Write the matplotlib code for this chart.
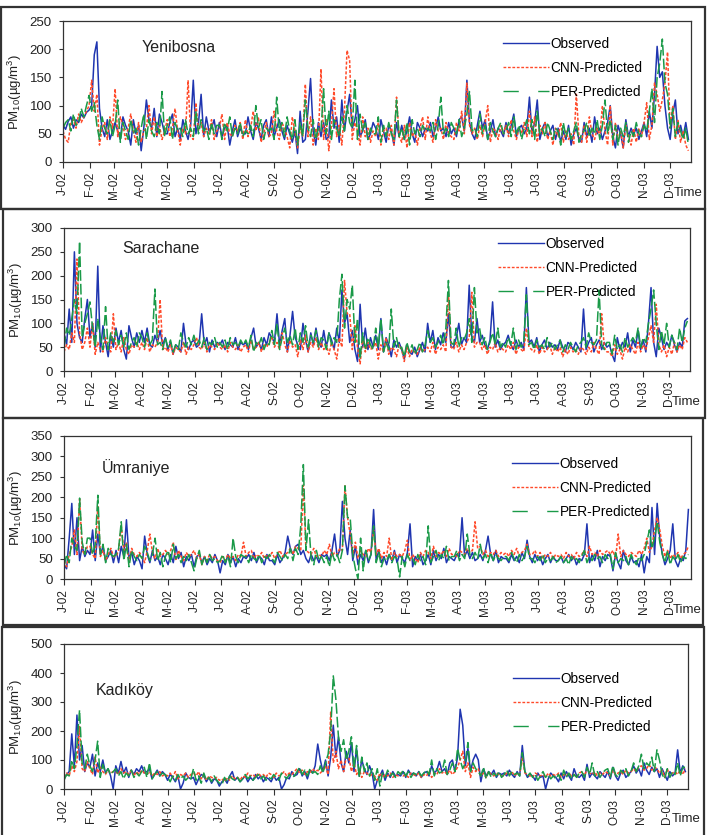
import numpy as np
import pandas as pd
import matplotlib
matplotlib.use('Agg')
from matplotlib import pyplot as plt
from matplotlib.patches import Rectangle
from matplotlib.lines import Line2D

plt.rcParams['font.family'] = ['Liberation Sans', 'DejaVu Sans']
plt.rcParams['mathtext.fontset'] = 'custom'
plt.rcParams['mathtext.rm'] = 'Liberation Sans'
plt.rcParams['mathtext.it'] = 'Liberation Sans:italic'

# data: PM10, one value every 3 days from 1 Jan 2002
stations = ['Yenibosna', 'Sarachane', 'Ümraniye', 'Kadıköy']
y_max = [250, 300, 350, 500]
y_step = [50, 50, 50, 100]
labels = ['Observed', 'CNN-Predicted', 'PER-Predicted']

obs_yen = [65, 58, 72, 80, 60, 75, 70, 85, 78, 88,  92, 100, 190, 213, 95, 60, 45, 75, 40, 55,
           70, 55, 40, 80, 65, 55, 30, 75, 50, 65,  20, 60, 110, 75, 60, 95, 45, 85, 70, 50,
           50, 70, 85, 45, 60, 40, 75, 55, 40, 65,  145, 50, 70, 120, 45, 80, 55, 60, 75, 45,
           70, 45, 60, 65, 30, 55, 75, 45, 60, 50,  50, 80, 55, 40, 70, 60, 40, 65, 75, 45,
           80, 45, 60, 75, 55, 40, 65, 50, 35, 55,  15, 90, 35, 40, 90, 148, 55, 30, 70, 45,
           70, 40, 45, 110, 60, 80, 35, 110, 55, 90,  120, 60, 75, 100, 45, 55, 75, 40, 50, 70,
           60, 40, 75, 55, 35, 65, 55, 30, 70, 45,  65, 40, 55, 80, 50, 35, 70, 60, 45, 60,
           55, 70, 45, 60, 80, 55, 60, 45, 70, 50,  60, 45, 75, 80, 55, 145, 70, 50, 40, 65,
           90, 60, 75, 40, 55, 75, 45, 60, 55, 45,  70, 50, 65, 85, 45, 60, 65, 50, 60, 115,
           50, 70, 110, 40, 60, 70, 45, 55, 65, 40,  60, 35, 55, 40, 65, 30, 50, 60, 40, 35,
           70, 45, 60, 35, 80, 50, 60, 40, 55, 70,  100, 45, 25, 65, 50, 25, 75, 45, 60, 50,
           60, 40, 55, 70, 45, 90, 60, 120, 205, 150,  160, 100, 60, 40, 85, 110, 50, 65, 45, 70,
           40]
cnn_yen = [55, 40, 35, 70, 75, 60, 85, 70, 80, 90,  100, 145, 90, 120, 30, 60, 70, 40, 80, 60,
           130, 45, 80, 65, 40, 60, 85, 55, 35, 70,  35, 55, 60, 100, 50, 80, 45, 65, 40, 55,
           75, 45, 60, 95, 55, 30, 60, 50, 145, 45,  40, 105, 55, 70, 45, 60, 50, 75, 40, 55,
           60, 85, 40, 70, 50, 45, 65, 55, 70, 40,  75, 45, 60, 90, 55, 80, 35, 50, 70, 45,
           50, 90, 55, 40, 70, 60, 45, 25, 80, 55,  25, 60, 45, 138, 45, 80, 30, 60, 40, 165,
           40, 75, 20, 65, 130, 45, 65, 30, 90, 198,  180, 40, 70, 55, 30, 80, 45, 60, 35, 55,
           45, 70, 30, 55, 60, 40, 65, 30, 115, 45,  35, 65, 25, 70, 45, 55, 30, 60, 80, 40,
           80, 50, 35, 75, 55, 60, 40, 70, 50, 45,  40, 70, 55, 90, 50, 140, 65, 50, 60, 40,
           65, 45, 70, 100, 35, 60, 55, 40, 65, 50,  65, 45, 75, 55, 40, 60, 50, 70, 45, 90,
           45, 80, 35, 65, 50, 70, 40, 55, 30, 60,  45, 70, 35, 55, 40, 50, 30, 120, 45, 35,
           65, 35, 80, 50, 40, 60, 45, 100, 55, 30,  100, 30, 70, 40, 55, 25, 65, 45, 30, 60,
           35, 60, 45, 70, 105, 40, 65, 140, 120, 90,  110, 140, 195, 60, 100, 40, 75, 35, 55, 30,
           20]
per_yen = [60, 70, 75, 55, 85, 65, 70, 95, 80, 100,  118, 90, 105, 65, 40, 80, 60, 50, 75, 45,
           65, 110, 35, 70, 55, 40, 75, 50, 60, 30,  60, 85, 40, 75, 55, 45, 70, 50, 125, 45,
           65, 80, 40, 70, 55, 60, 45, 75, 50, 60,  45, 90, 50, 75, 55, 60, 40, 70, 50, 65,
           65, 40, 70, 55, 80, 45, 60, 50, 70, 45,  55, 50, 65, 45, 100, 60, 75, 40, 60, 55,
           60, 40, 115, 55, 70, 45, 80, 55, 40, 75,  30, 70, 45, 110, 60, 45, 75, 40, 60, 55,
           130, 50, 90, 40, 75, 60, 45, 80, 55, 100,  70, 60, 145, 40, 85, 55, 70, 40, 60, 50,
           50, 80, 35, 65, 45, 70, 50, 40, 110, 45,  60, 40, 70, 30, 75, 50, 60, 45, 65, 55,
           60, 55, 70, 40, 65, 115, 50, 60, 45, 70,  60, 50, 75, 45, 60, 85, 125, 55, 60, 45,
           85, 50, 65, 40, 70, 55, 45, 60, 70, 50,  55, 70, 45, 80, 50, 65, 40, 60, 75, 50,
           75, 40, 90, 50, 60, 45, 70, 55, 40, 60,  55, 30, 70, 45, 60, 40, 55, 70, 35, 50,
           55, 70, 45, 60, 50, 75, 40, 65, 110, 50,  75, 40, 65, 30, 60, 45, 70, 35, 55, 45,
           70, 50, 45, 65, 55, 90, 130, 70, 150, 175,  218, 140, 120, 60, 95, 45, 70, 55, 40, 60,
           30]

obs_sar = [80, 55, 130, 60, 250, 100, 70, 60, 110, 150,  70, 100, 50, 220, 40, 95, 60, 30, 75, 50,
           90, 60, 85, 45, 25, 95, 70, 50, 80, 60,  85, 60, 90, 55, 50, 75, 60, 85, 55, 70,
           45, 60, 35, 55, 50, 40, 100, 55, 45, 60,  65, 50, 55, 120, 55, 70, 40, 65, 50, 60,
           55, 65, 45, 60, 55, 50, 70, 45, 60, 55,  60, 45, 70, 90, 50, 60, 45, 70, 55, 80,
           70, 60, 120, 55, 85, 110, 40, 75, 125, 70,  55, 45, 100, 65, 40, 80, 55, 90, 60, 50,
           85, 50, 80, 65, 45, 90, 60, 170, 100, 120,  60, 85, 45, 20, 140, 50, 90, 45, 70, 50,
           75, 45, 110, 40, 70, 55, 30, 65, 50, 60,  45, 25, 55, 40, 35, 50, 30, 45, 60, 40,
           100, 60, 85, 45, 70, 55, 80, 60, 120, 50,  50, 70, 100, 55, 70, 60, 180, 70, 60, 110,
           60, 75, 55, 45, 65, 145, 50, 65, 45, 55,  60, 75, 55, 45, 65, 50, 60, 45, 175, 60,
           65, 50, 70, 40, 55, 65, 45, 60, 50, 55,  45, 65, 50, 40, 60, 55, 45, 60, 50, 40,
           130, 45, 60, 70, 40, 55, 65, 45, 60, 50,  55, 35, 20, 70, 45, 60, 50, 80, 40, 65,
           50, 85, 45, 65, 40, 100, 175, 60, 30, 90,  70, 45, 60, 50, 75, 55, 40, 60, 50, 105,
           110]
cnn_sar = [40, 55, 45, 80, 60, 235, 80, 45, 60, 90,  50, 100, 35, 60, 45, 40, 70, 50, 40, 120,
           45, 60, 40, 70, 45, 35, 55, 50, 60, 45,  60, 45, 70, 40, 55, 50, 60, 150, 45, 50,
           40, 55, 35, 50, 45, 40, 60, 35, 50, 45,  55, 70, 50, 45, 60, 40, 55, 50, 45, 60,
           50, 45, 55, 40, 60, 50, 45, 55, 40, 50,  55, 40, 65, 45, 50, 60, 40, 55, 50, 60,
           70, 50, 60, 45, 80, 55, 40, 65, 50, 55,  30, 65, 45, 75, 40, 60, 50, 70, 45, 60,
           45, 55, 35, 60, 45, 25, 70, 50, 190, 120,  120, 45, 95, 50, 15, 70, 40, 60, 45, 50,
           60, 25, 55, 40, 70, 35, 50, 45, 30, 55,  45, 20, 50, 30, 45, 40, 35, 50, 40, 45,
           50, 40, 60, 35, 50, 45, 55, 40, 165, 50,  45, 60, 40, 55, 45, 60, 70, 165, 50, 60,
           60, 45, 55, 35, 50, 45, 60, 40, 50, 45,  40, 55, 45, 60, 35, 50, 45, 40, 90, 50,
           45, 40, 55, 35, 50, 40, 45, 55, 35, 50,  40, 50, 30, 45, 35, 50, 40, 45, 35, 50,
           45, 35, 50, 40, 60, 45, 35, 120, 50, 40,  40, 30, 55, 35, 45, 25, 50, 40, 55, 45,
           35, 60, 40, 55, 45, 70, 95, 60, 140, 55,  40, 55, 30, 50, 35, 60, 40, 55, 45, 70,
           60]
per_sar = [50, 90, 75, 110, 150, 120, 272, 70, 100, 120,  145, 90, 50, 110, 70, 45, 135, 45, 80, 60,
           85, 55, 75, 50, 80, 45, 60, 70, 50, 80,  70, 50, 80, 55, 65, 172, 55, 60, 45, 70,
           50, 65, 40, 55, 45, 80, 60, 50, 70, 55,  75, 55, 65, 50, 70, 45, 60, 55, 70, 50,
           60, 50, 65, 45, 70, 55, 60, 50, 65, 55,  65, 50, 75, 40, 60, 55, 70, 45, 60, 55,
           85, 55, 100, 45, 70, 90, 60, 75, 55, 90,  45, 80, 60, 95, 50, 75, 60, 85, 50, 70,
           65, 45, 80, 55, 70, 60, 150, 203, 90, 150,  130, 180, 60, 110, 25, 80, 45, 70, 55, 45,
           90, 50, 110, 40, 60, 45, 130, 50, 70, 45,  50, 30, 60, 40, 55, 35, 45, 60, 40, 55,
           85, 60, 70, 50, 60, 75, 55, 90, 190, 60,  55, 90, 50, 70, 65, 80, 110, 60, 175, 80,
           90, 55, 70, 45, 60, 80, 55, 90, 50, 60,  50, 70, 55, 90, 45, 65, 50, 60, 160, 55,
           60, 45, 65, 50, 55, 45, 70, 50, 60, 45,  55, 65, 40, 55, 45, 60, 50, 40, 55, 60,
           70, 50, 80, 60, 55, 65, 170, 55, 45, 60,  60, 35, 75, 45, 55, 40, 70, 50, 60, 70,
           60, 90, 50, 70, 60, 100, 130, 170, 100, 45,  85, 55, 100, 50, 75, 60, 45, 90, 60, 90,
           105]

obs_umr = [35, 25, 100, 185, 60, 150, 45, 80, 55, 70,  60, 120, 45, 110, 60, 80, 45, 55, 70, 40,
           70, 40, 80, 55, 145, 50, 65, 35, 55, 45,  25, 105, 60, 40, 70, 45, 55, 35, 60, 50,
           35, 60, 40, 80, 50, 65, 30, 55, 45, 60,  30, 55, 60, 40, 55, 35, 50, 40, 60, 45,
           15, 45, 35, 60, 40, 55, 30, 50, 40, 55,  50, 60, 45, 65, 40, 55, 50, 35, 60, 45,
           45, 35, 60, 40, 50, 65, 105, 75, 60, 80,  85, 60, 70, 50, 40, 60, 45, 55, 40, 60,
           55, 60, 45, 70, 110, 55, 70, 190, 100, 60,  120, 45, 80, 35, 60, 45, 70, 40, 60, 170,
           45, 70, 40, 55, 35, 60, 45, 70, 40, 60,  50, 40, 65, 135, 30, 55, 45, 60, 35, 45,
           60, 35, 70, 45, 60, 50, 75, 40, 55, 50,  45, 60, 55, 150, 55, 70, 50, 65, 45, 50,
           60, 45, 70, 105, 60, 45, 70, 40, 55, 50,  50, 40, 60, 45, 55, 40, 65, 50, 95, 55,
           40, 60, 45, 55, 35, 50, 60, 40, 55, 45,  45, 55, 40, 50, 60, 45, 55, 35, 50, 45,
           60, 135, 40, 60, 45, 70, 30, 55, 45, 60,  55, 20, 60, 40, 25, 70, 45, 35, 55, 40,
           45, 30, 60, 15, 55, 40, 175, 60, 185, 100,  60, 35, 50, 70, 135, 45, 30, 50, 45, 70,
           170]
cnn_umr = [45, 30, 60, 80, 120, 60, 195, 70, 60, 80,  80, 60, 50, 180, 55, 70, 45, 60, 75, 55,
           55, 70, 130, 70, 90, 40, 75, 60, 55, 65,  55, 40, 70, 110, 65, 50, 75, 55, 60, 70,
           60, 70, 90, 45, 70, 55, 45, 65, 55, 60,  70, 50, 60, 35, 55, 45, 60, 50, 55, 45,
           40, 55, 45, 60, 50, 55, 45, 60, 55, 90,  55, 65, 70, 50, 60, 55, 65, 50, 60, 55,
           65, 50, 60, 70, 55, 60, 65, 75, 60, 80,  75, 70, 230, 70, 65, 60, 75, 55, 60, 55,
           70, 60, 85, 55, 65, 60, 75, 70, 228, 150,  110, 60, 90, 50, 70, 60, 55, 75, 65, 120,
           60, 75, 50, 65, 55, 100, 45, 65, 55, 60,  55, 70, 95, 45, 60, 50, 40, 65, 55, 70,
           65, 50, 80, 55, 65, 60, 70, 55, 75, 60,  60, 55, 70, 65, 60, 75, 65, 70, 140, 75,
           80, 60, 70, 55, 65, 60, 70, 55, 65, 60,  65, 55, 70, 60, 75, 55, 65, 70, 85, 60,
           60, 70, 55, 65, 50, 60, 55, 65, 50, 60,  55, 60, 50, 65, 55, 60, 50, 65, 55, 60,
           70, 55, 80, 60, 65, 55, 70, 60, 65, 70,  60, 70, 50, 110, 55, 70, 60, 55, 65, 60,
           55, 70, 60, 75, 100, 65, 80, 120, 150, 120,  80, 55, 70, 50, 60, 55, 65, 50, 60, 65,
           80]
per_umr = [30, 60, 40, 100, 80, 70, 198, 90, 60, 100,  100, 60, 85, 205, 60, 85, 40, 75, 60, 55,
           60, 75, 140, 45, 85, 30, 70, 55, 45, 60,  50, 80, 65, 45, 60, 100, 45, 65, 30, 55,
           70, 40, 85, 50, 60, 40, 55, 45, 60, 40,  20, 50, 70, 35, 55, 40, 60, 45, 50, 40,
           45, 60, 40, 55, 30, 100, 55, 40, 60, 55,  55, 40, 60, 50, 45, 60, 40, 55, 50, 60,
           50, 40, 65, 55, 45, 60, 50, 75, 45, 75,  60, 130, 280, 70, 145, 50, 35, 70, 45, 55,
           40, 55, 30, 65, 45, 60, 40, 70, 228, 150,  150, 60, 25, 0, 100, 20, 70, 45, 60, 130,
           40, 65, 30, 50, 45, 60, 40, 55, 50, 5,  55, 30, 60, 45, 50, 35, 60, 45, 55, 35,
           130, 40, 55, 70, 45, 60, 50, 80, 45, 55,  55, 70, 45, 60, 50, 110, 60, 50, 65, 50,
           85, 50, 60, 40, 65, 45, 60, 50, 45, 55,  55, 45, 65, 50, 40, 60, 45, 55, 80, 50,
           50, 40, 55, 45, 60, 40, 50, 45, 55, 40,  45, 55, 40, 50, 35, 55, 45, 50, 40, 55,
           70, 40, 55, 45, 60, 50, 55, 40, 60, 50,  60, 25, 65, 40, 50, 45, 55, 35, 60, 45,
           35, 55, 45, 60, 90, 120, 75, 100, 140, 90,  60, 40, 70, 35, 55, 45, 60, 40, 55, 50,
           60]

obs_kad = [35, 50, 60, 190, 80, 255, 100, 150, 60, 90,  75, 120, 45, 90, 60, 100, 55, 70, 45, 0,
           80, 55, 95, 55, 75, 40, 65, 50, 70, 60,  80, 55, 60, 70, 35, 50, 65, 45, 60, 50,
           30, 50, 40, 25, 45, 0, 20, 55, 40, 35,  40, 15, 35, 50, 45, 25, 40, 20, 35, 30,
           10, 25, 35, 20, 45, 60, 30, 40, 25, 35,  45, 25, 40, 30, 50, 35, 45, 25, 40, 35,
           25, 45, 30, 40, 0, 15, 40, 35, 60, 45,  50, 70, 45, 60, 35, 65, 55, 80, 155, 100,
           60, 100, 45, 110, 220, 110, 180, 90, 60, 130,  90, 160, 60, 140, 45, 100, 70, 50, 80, 55,
           0, 30, 45, 65, 30, 55, 40, 60, 45, 50,  45, 60, 40, 65, 50, 55, 45, 60, 40, 55,
           60, 45, 80, 55, 65, 95, 60, 70, 50, 90,  100, 60, 110, 275, 220, 80, 140, 60, 100, 120,
           100, 25, 70, 45, 60, 50, 65, 40, 55, 50,  55, 45, 65, 50, 40, 60, 45, 150, 60, 40,
           50, 45, 30, 55, 40, 45, 0, 35, 55, 45,  40, 25, 55, 35, 60, 45, 30, 70, 45, 40,
           50, 30, 85, 40, 55, 45, 35, 60, 50, 40,  60, 35, 75, 45, 30, 55, 65, 40, 50, 60,
           80, 55, 70, 45, 90, 65, 50, 75, 60, 70,  40, 70, 50, 30, 60, 45, 55, 135, 55, 80,
           60]
cnn_kad = [40, 55, 45, 80, 60, 95, 215, 70, 60, 95,  70, 50, 110, 55, 75, 60, 50, 65, 55, 60,
           60, 50, 70, 55, 60, 50, 65, 45, 60, 50,  65, 55, 50, 60, 45, 55, 50, 60, 45, 50,
           45, 55, 40, 60, 35, 50, 45, 55, 40, 50,  55, 45, 60, 35, 50, 30, 45, 40, 35, 40,
           30, 35, 25, 40, 30, 45, 35, 40, 30, 45,  40, 55, 45, 50, 40, 55, 45, 50, 40, 55,
           50, 40, 55, 45, 50, 60, 45, 55, 50, 60,  70, 55, 65, 50, 60, 55, 70, 60, 65, 55,
           65, 80, 50, 265, 90, 130, 70, 100, 60, 110,  110, 60, 90, 50, 70, 40, 60, 55, 45, 50,
           45, 30, 55, 40, 50, 45, 55, 40, 50, 45,  55, 45, 50, 40, 55, 50, 45, 55, 40, 50,
           45, 60, 40, 55, 50, 70, 55, 60, 50, 65,  50, 60, 75, 100, 130, 60, 90, 40, 75, 60,
           70, 45, 55, 40, 60, 50, 45, 55, 50, 45,  45, 55, 50, 60, 45, 55, 50, 110, 55, 50,
           45, 40, 55, 50, 45, 50, 40, 55, 45, 50,  45, 55, 40, 50, 45, 55, 45, 50, 40, 55,
           60, 45, 70, 55, 50, 60, 45, 55, 50, 60,  55, 45, 65, 50, 55, 60, 50, 65, 55, 60,
           70, 60, 75, 80, 65, 70, 85, 65, 75, 70,  55, 65, 40, 70, 45, 55, 60, 50, 65, 50,
           70]
per_kad = [30, 50, 45, 100, 70, 150, 272, 90, 70, 120,  80, 60, 100, 165, 40, 85, 55, 70, 50, 60,
           70, 45, 60, 35, 55, 45, 65, 40, 55, 45,  60, 75, 40, 90, 35, 50, 60, 45, 55, 50,
           40, 25, 45, 30, 50, 35, 45, 30, 40, 35,  70, 30, 45, 20, 55, 30, 40, 25, 45, 30,
           20, 15, 40, 25, 45, 35, 30, 40, 25, 35,  50, 35, 45, 30, 40, 50, 35, 45, 30, 40,
           35, 50, 40, 30, 55, 45, 35, 50, 40, 45,  60, 75, 50, 65, 45, 70, 55, 60, 50, 80,
           55, 90, 120, 200, 390, 310, 180, 130, 170, 100,  130, 180, 70, 150, 40, 110, 60, 90, 45, 70,
           30, 70, 10, 55, 40, 65, 45, 55, 40, 60,  50, 65, 45, 60, 40, 55, 50, 60, 45, 55,
           65, 50, 100, 45, 70, 55, 60, 100, 50, 65,  90, 60, 140, 100, 70, 90, 160, 60, 90, 70,
           60, 45, 75, 35, 60, 40, 55, 45, 60, 40,  50, 65, 45, 60, 50, 55, 45, 125, 60, 45,
           55, 40, 50, 30, 45, 60, 40, 50, 35, 45,  35, 50, 30, 65, 40, 55, 35, 50, 40, 55,
           60, 40, 75, 50, 90, 45, 60, 40, 55, 65,  70, 40, 80, 50, 40, 65, 55, 70, 45, 60,
           90, 60, 80, 120, 70, 90, 80, 110, 60, 135,  100, 50, 35, 70, 40, 60, 50, 90, 45, 75,
           75]

series = [(obs_yen, cnn_yen, per_yen), (obs_sar, cnn_sar, per_sar),
          (obs_umr, cnn_umr, per_umr), (obs_kad, cnn_kad, per_kad)]

dates = pd.date_range('2002-01-01', periods=len(obs_yen), freq='3D')
months = pd.date_range('2002-01-01', '2003-12-01', freq='MS')
month_lab = ['JFMAMJJASOND'[m.month - 1] + '-' + m.strftime('%y') for m in months]
x_end = pd.Timestamp('2003-12-25')

# layout in pixels of the 712x835 picture
W, H = 712, 835
frames = [(1, 7, 705, 209), (3, 209, 705, 418), (3, 418, 703, 625), (2, 627, 704, 840)]
axes_px = [(63, 21, 691, 162), (64, 228, 690, 371), (64, 436, 691, 579), (64, 644, 688, 789)]
name_px = [(142, 48), (122, 248), (102, 468), (96, 690)]
leg_px = [(503, 37), (498, 237), (512, 457), (513, 672)]
time_px = [(674, 196), (672, 405), (673, 613), (672, 822)]

colors = ['#1f35b0', '#ff4a2a', '#1a9a48']
styles = ['-', (0, (2, 1.2)), (0, (7, 2))]
leg_styles = ['-', (0, (2, 1.2)), (0, (11, 14))]

fig = plt.figure(figsize=(7.12, 8.35), dpi=100)

for i in range(4):
    fx0, fy0, fx1, fy1 = frames[i]
    fig.add_artist(Rectangle((fx0 / W, 1 - fy1 / H), (fx1 - fx0) / W, (fy1 - fy0) / H,
                             transform=fig.transFigure, fill=False, lw=1.6, ec='#333333'))
    x0, y0, x1, y1 = axes_px[i]
    ax = fig.add_axes([x0 / W, 1 - y1 / H, (x1 - x0) / W, (y1 - y0) / H])
    for s, c, ls in zip(series[i], colors, styles):
        ax.plot(dates, s, color=c, linestyle=ls, lw=1.1)
    ax.set_xlim(dates[0], x_end)
    ax.set_ylim(0, y_max[i])
    ax.set_yticks(np.arange(0, y_max[i] + 1, y_step[i]))
    ax.set_xticks(months)
    ax.set_xticklabels(month_lab, rotation=90, fontsize=8.5)
    ax.tick_params(axis='y', labelsize=9.5, length=3, pad=5, color='#333333', labelcolor='#222222')
    ax.tick_params(axis='x', length=4, pad=3, color='#333333', labelcolor='#222222')
    for sp in ax.spines.values():
        sp.set_color('#333333')
        sp.set_linewidth(0.9)
    ax.set_ylabel('PM$_{\\mathregular{10}}$(µg/m$^{\\mathregular{3}}$)', fontsize=9.5, color='#222222')
    ax.yaxis.set_label_coords(-0.062, 0.5)
    fig.text(name_px[i][0] / W, 1 - name_px[i][1] / H, stations[i], fontsize=11.5,
             va='center', ha='left', color='#222222')
    fig.text(time_px[i][0] / W, 1 - time_px[i][1] / H, 'Time', fontsize=9.5,
             va='baseline', ha='left', color='#222222')
    handles = [Line2D([], [], color=c, linestyle=ls, lw=1.0) for c, ls in zip(colors, leg_styles)]
    ax.legend(handles, labels, loc='upper left',
              bbox_to_anchor=(leg_px[i][0] / W, 1 - leg_px[i][1] / H),
              bbox_transform=fig.transFigure, frameon=False, fontsize=9.8,
              handlelength=3.4, handletextpad=0.1, labelspacing=0.72,
              borderpad=0, borderaxespad=0)

fig.savefig('out.png', dpi=100)
plt.close()
